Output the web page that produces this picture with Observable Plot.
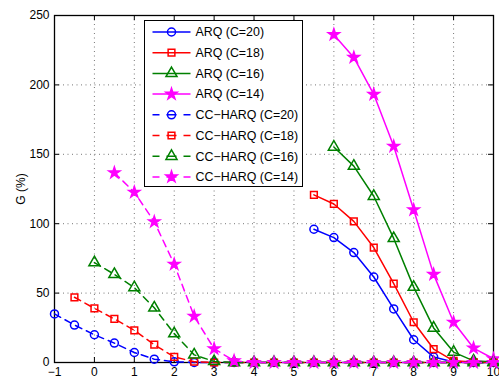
<!DOCTYPE html>
<html><head><meta charset="utf-8">
<script src="https://cdn.jsdelivr.net/npm/d3@7"></script>
<script src="https://cdn.jsdelivr.net/npm/@observablehq/plot@0.6"></script>
<style>
body{margin:0;background:#fff}
#wrap{position:relative;width:499px;height:385px;font-family:"Liberation Sans",Arial,sans-serif}
#legend{position:absolute;left:0;top:0}
</style>
</head><body><div id="wrap"></div>
<script>
const xTicks = [-1, 0, 1, 2, 3, 4, 5, 6, 7, 8, 9, 10];
const yTicks = [0, 50, 100, 150, 200, 250];
const xGrid = [0, 1, 2, 3, 4, 5, 6, 7, 8, 9];
const yGrid = [50, 100, 150, 200];

const names = ["ARQ (C=20)", "ARQ (C=18)", "ARQ (C=16)", "ARQ (C=14)",
  "CC\u2212HARQ (C=20)", "CC\u2212HARQ (C=18)", "CC\u2212HARQ (C=16)", "CC\u2212HARQ (C=14)"];

const xArq20 = [5.5, 6, 6.5, 7, 7.5, 8, 8.5, 9, 9.5, 10];
const yArq20 = [96, 90, 79.2, 61.6, 38.6, 16.4, 3.9, 0.4, 0, 0];
const xArq18 = [5.5, 6, 6.5, 7, 7.5, 8, 8.5, 9, 9.5, 10];
const yArq18 = [120.8, 114.2, 101.7, 82.8, 56.8, 29, 9.7, 1.2, 0.3, 0];
const xArq16 = [6, 6.5, 7, 7.5, 8, 8.5, 9, 9.5, 10];
const yArq16 = [155.3, 141.5, 119.8, 89.4, 54.3, 24.9, 7.5, 1.2, 0.3];
const xArq14 = [6, 6.5, 7, 7.5, 8, 8.5, 9, 9.5, 10];
const yArq14 = [236.2, 219.8, 193.2, 155.8, 110, 63.5, 29, 10.4, 2.7];

const xCc20 = [-1, -0.5, 0, 0.5, 1, 1.5, 2, 2.5, 3, 3.5, 4, 4.5, 5, 5.5, 6, 6.5, 7, 7.5, 8, 8.5, 9, 9.5, 10];
const yCc20 = [35, 27, 20, 14, 7.2, 2.4, 0.5, 0, 0, 0, 0, 0, 0, 0, 0, 0, 0, 0, 0, 0, 0, 0, 0];
const xCc18 = [-0.5, 0, 0.5, 1, 1.5, 2, 2.5, 3, 3.5, 4, 4.5, 5, 5.5, 6, 6.5, 7, 7.5, 8, 8.5, 9, 9.5, 10];
const yCc18 = [47, 39, 31.4, 23.2, 12.8, 4, 0.6, 0, 0, 0, 0, 0, 0, 0, 0, 0, 0, 0, 0, 0, 0, 0];
const xCc16 = [0, 0.5, 1, 1.5, 2, 2.5, 3, 3.5, 4, 4.5, 5, 5.5, 6, 6.5, 7, 7.5, 8, 8.5, 9, 9.5, 10];
const yCc16 = [72, 63.5, 54, 39.4, 20.8, 5.5, 0.8, 0, 0, 0, 0, 0, 0, 0, 0, 0, 0, 0, 0, 0, 0];
const xCc14 = [0.5, 1, 1.5, 2, 2.5, 3, 3.5, 4, 4.5, 5, 5.5, 6, 6.5, 7, 7.5, 8, 8.5, 9, 9.5, 10];
const yCc14 = [136.7, 122.7, 101.4, 70.8, 33.3, 9.9, 1.2, 0, 0, 0, 0, 0, 0, 0, 0, 0, 0, 0, 0, 0];

const colors = ["#0000ff", "#ff0000", "#008000", "#ff00ff"];
const symbols = ["circle", "square", "triangle", "star"];

const xsAll = [xArq20, xArq18, xArq16, xArq14, xCc20, xCc18, xCc16, xCc14];
const ysAll = [yArq20, yArq18, yArq16, yArq14, yCc20, yCc18, yCc16, yCc14];

const series = names.map((name, k) => ({
  name,
  color: colors[k % 4],
  symbol: symbols[k % 4],
  dashed: k >= 4,
  rows: xsAll[k].map((x, i) => ({x, y: ysAll[k][i]}))
}));

const W = 499, H = 385, mL = 54, mR = 6, mT = 15, mB = 23;
const plotW = W - mL - mR, plotH = H - mT - mB;

function symR(sym) { return sym === "star" ? 3.5 : sym === "triangle" ? 4.1 : sym === "square" ? 3.8 : 4; }

const marks = [
  Plot.gridX(xGrid, {stroke: "#555", strokeOpacity: 0.8, strokeDasharray: "1,3.5"}),
  Plot.gridY(yGrid, {stroke: "#555", strokeOpacity: 0.8, strokeDasharray: "1,3.5"}),
  Plot.tickX(xTicks, {x: d => d, stroke: "black", insetTop: plotH - 5}),
  Plot.tickX(xTicks, {x: d => d, stroke: "black", insetBottom: plotH - 5}),
  Plot.tickY(yTicks, {y: d => d, stroke: "black", insetRight: plotW - 5}),
  Plot.tickY(yTicks, {y: d => d, stroke: "black", insetLeft: plotW - 5}),
  Plot.frame({stroke: "black", strokeWidth: 1.3}),
  Plot.axisX(xTicks, {tickSize: 0, tickPadding: 5, fontSize: 12, label: null}),
  Plot.axisY(yTicks, {tickSize: 0, tickPadding: 5, fontSize: 12, label: "G (%)",
    labelAnchor: "center", labelArrow: "none", labelOffset: 38})
];
for (const s of series) {
  marks.push(Plot.line(s.rows, {x: "x", y: "y", stroke: s.color, strokeWidth: 1.5,
    strokeDasharray: s.dashed ? "7,5" : null}));
  marks.push(Plot.dot(s.rows, {x: "x", y: "y", symbol: () => s.symbol, r: symR(s.symbol),
    stroke: s.color, strokeWidth: 1.5, fill: s.symbol === "star" ? s.color : "none"}));
}

const chart = Plot.plot({
  width: W, height: H,
  marginLeft: mL, marginRight: mR, marginTop: mT, marginBottom: mB,
  style: {fontFamily: "'Liberation Sans', Arial, sans-serif", fontSize: "12px", color: "black", background: "white"},
  x: {domain: [-1, 10]},
  y: {domain: [0, 250]},
  marks
});
document.getElementById("wrap").appendChild(chart);

// Legend overlay
const lg = d3.select("#wrap").append("svg").attr("id", "legend")
  .attr("width", W).attr("height", H);
const lx = 144.5, ly = 20.5, lw = 158, lh = 166;
lg.append("rect").attr("x", lx).attr("y", ly).attr("width", lw).attr("height", lh)
  .attr("fill", "white").attr("stroke", "black").attr("stroke-width", 1);
series.forEach((s, i) => {
  const yy = ly + 11.5 + i * 20.7;
  lg.append("line").attr("x1", lx + 8).attr("x2", lx + 46).attr("y1", yy).attr("y2", yy)
    .attr("stroke", s.color).attr("stroke-width", 1.5)
    .attr("stroke-dasharray", s.dashed ? "7,7,10,7,7" : null);
  const r = symR(s.symbol);
  const sym = {circle: d3.symbolCircle, square: d3.symbolSquare, triangle: d3.symbolTriangle, star: d3.symbolStar}[s.symbol];
  lg.append("path").attr("d", d3.symbol(sym, Math.PI * r * r)())
    .attr("transform", `translate(${lx + 27},${yy})`)
    .attr("stroke", s.color).attr("stroke-width", 1.5)
    .attr("fill", s.symbol === "star" ? s.color : "none");
  lg.append("text").attr("x", lx + 51).attr("y", yy + 4.3).text(s.name)
    .attr("font-size", 12.4).attr("font-family", "'Liberation Sans', Arial, sans-serif").attr("fill", "black");
});
</script>
</body></html>
